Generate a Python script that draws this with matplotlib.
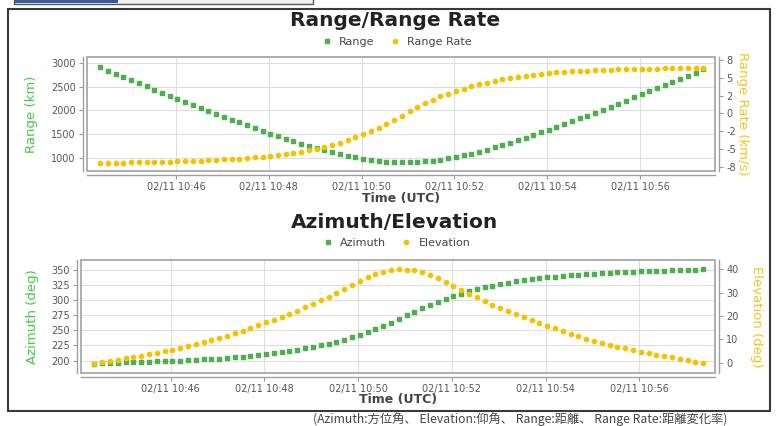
import matplotlib
matplotlib.use("Agg")
import matplotlib.pyplot as plt
import matplotlib.dates as mdates
import pandas as pd
from matplotlib.lines import Line2D
from matplotlib.patches import Rectangle

# samples every 10 s
times = pd.date_range("2016-02-11 10:44:22", periods=79, freq="10s")

range_km = [2900, 2833, 2767, 2701, 2635, 2570, 2504, 2439, 2375, 2310,
            2246, 2183, 2119, 2056, 1994, 1932, 1871, 1810, 1750, 1691,
            1632, 1575, 1518, 1463, 1409, 1357, 1306, 1257, 1210, 1166,
            1124, 1085, 1049, 1017, 988, 964, 945, 930, 921, 916,
            917, 924, 935, 952, 973, 999, 1029, 1063, 1100, 1140,
            1183, 1229, 1276, 1326, 1378, 1431, 1485, 1541, 1598, 1655,
            1714, 1774, 1834, 1895, 1957, 2019, 2081, 2144, 2208, 2272,
            2336, 2401, 2465, 2531, 2596, 2662, 2727, 2793, 2860]

range_rate = [-6.95, -6.94, -6.93, -6.92, -6.90, -6.89, -6.87, -6.85, -6.82, -6.79,
              -6.76, -6.72, -6.68, -6.64, -6.59, -6.54, -6.48, -6.42, -6.35, -6.27,
              -6.18, -6.08, -5.97, -5.85, -5.71, -5.55, -5.37, -5.17, -4.95, -4.70,
              -4.42, -4.11, -3.76, -3.38, -2.96, -2.50, -2.01, -1.50, -0.98, -0.35,
              0.28, 0.88, 1.42, 1.92, 2.37, 2.78, 3.15, 3.49, 3.80, 4.08,
              4.33, 4.56, 4.77, 4.96, 5.13, 5.28, 5.42, 5.54, 5.65, 5.75,
              5.83, 5.90, 5.96, 6.02, 6.07, 6.11, 6.15, 6.18, 6.21, 6.24,
              6.26, 6.28, 6.30, 6.32, 6.33, 6.35, 6.36, 6.37, 6.38]

azimuth = [194.5, 195.6, 196.2, 196.7, 197.3, 197.6, 197.9, 198.3, 198.6, 199.0,
           199.5, 200.0, 200.6, 201.2, 201.8, 202.6, 203.4, 204.4, 205.5, 206.7,
           208.0, 209.4, 211.0, 212.7, 214.5, 216.3, 218.3, 220.4, 222.7, 225.2,
           228.0, 231.2, 234.7, 238.5, 242.6, 247.0, 251.8, 257.0, 262.6, 268.8,
           275.1, 280.8, 286.3, 291.6, 296.8, 301.8, 306.5, 310.8, 314.6, 318.1,
           321.3, 324.2, 326.8, 329.1, 331.1, 333.0, 334.8, 336.4, 337.8, 339.1,
           340.3, 341.4, 342.4, 343.3, 344.1, 344.8, 345.4, 346.0, 346.6, 347.1,
           347.6, 348.1, 348.6, 349.0, 349.4, 349.8, 350.2, 350.6, 351.0]

elevation = [-0.5, 0.1, 0.5, 1.1, 1.8, 2.4, 3.0, 3.6, 4.2, 4.8,
             5.5, 6.2, 7.0, 7.8, 8.6, 9.5, 10.5, 11.5, 12.6, 13.7,
             14.8, 16.0, 17.2, 18.4, 19.7, 21.0, 22.3, 23.7, 25.2, 26.7,
             28.3, 29.9, 31.5, 33.2, 35.0, 36.5, 37.8, 38.9, 39.6, 39.95,
             39.9, 39.5, 38.7, 37.6, 36.2, 34.6, 32.9, 31.2, 29.6, 28.0,
             26.4, 24.9, 23.5, 22.1, 20.7, 19.4, 18.2, 17.0, 15.8, 14.6,
             13.5, 12.4, 11.3, 10.3, 9.4, 8.5, 7.6, 6.8, 6.1, 5.4,
             4.7, 4.0, 3.4, 2.8, 2.2, 1.6, 1.0, 0.3, -0.4]

rate_ticks = [-7.5, -5, -2.5, 0, 2.5, 5, 7.5]
rate_labels = ["-8", "-5", "-2", "0", "2", "5", "8"]

GREEN = "#4fae4f"
YELLOW = "#f3c300"
GREEN_TXT = "#46c646"
YELLOW_TXT = "#f2c41c"
MS_G, MS_Y = 2.6, 3.1

W, H = 776, 426
fig = plt.figure(figsize=(W / 100, H / 100), dpi=100)
fig.patch.set_facecolor("white")


def box(l, t, r, b):
    return [l / W, 1 - b / H, (r - l) / W, (b - t) / H]


def style(ax, axr):
    for a in (ax, axr):
        for s in a.spines.values():
            s.set_visible(False)
        a.tick_params(length=3, color="#999999", labelsize=7, labelcolor="#555555", pad=2)
    for s in (ax.spines["left"], ax.spines["bottom"], axr.spines["right"]):
        s.set_visible(True)
        s.set_position(("outward", 3))
        s.set_color("#a0a0a0")
        s.set_linewidth(1.0)
    ax.add_patch(Rectangle((0, 0), 1, 1, transform=ax.transAxes, fill=False,
                           ec="#a8a8a8", lw=1.3, clip_on=False, zorder=5))
    ax.set_axisbelow(True)
    ax.grid(True, color="#dddddd", lw=0.8)
    ax.xaxis.set_major_locator(mdates.MinuteLocator(byminute=[46, 48, 50, 52, 54, 56]))
    ax.xaxis.set_major_formatter(mdates.DateFormatter("%m/%d %H:%M"))
    ax.set_xlim(pd.Timestamp("2016-02-11 10:44:05"), pd.Timestamp("2016-02-11 10:57:37"))


def ylabels(ax, axr, left, right, lx, rx):
    ax.set_ylabel(left, color=GREEN_TXT, fontsize=9.5)
    ax.yaxis.set_label_coords(lx, 0.5)
    ax.yaxis.label.set_va("center")
    axr.set_ylabel(right, color=YELLOW_TXT, fontsize=9.5, rotation=270)
    axr.yaxis.set_label_coords(rx, 0.5)
    axr.yaxis.label.set_va("center")
    axr.yaxis.label.set_ha("center")


def xlabel(ax, y):
    ax.set_xlabel("Time (UTC)", fontsize=9, fontweight="bold", color="#444444")
    ax.xaxis.set_label_coords(0.5, y)


def legend(y, names):
    handles = [Line2D([], [], ls="none", marker="s", ms=MS_G, color=GREEN),
               Line2D([], [], ls="none", marker="o", ms=MS_Y, color=YELLOW)]
    fig.legend(handles, names, loc="center", bbox_to_anchor=(397 / W, 1 - y / H),
               ncol=2, frameon=False, fontsize=8, handlelength=0.8,
               handletextpad=0.7, columnspacing=1.4, labelcolor="#444444")


# top panel: range / range rate
ax1 = fig.add_axes(box(87, 57, 715, 171))
ax2 = ax1.twinx()
style(ax1, ax2)
ax1.plot(times, range_km, ls="none", marker="s", ms=MS_G, color=GREEN)
ax2.plot(times, range_rate, ls="none", marker="o", ms=MS_Y, color=YELLOW)
ax1.set_ylim(734, 3119)
ax1.set_yticks([1000, 1500, 2000, 2500, 3000])
ax2.set_ylim(-8.1, 7.92)
ax2.set_yticks(rate_ticks)
ax2.set_yticklabels(rate_labels)
ylabels(ax1, ax2, "Range (km)", "Range Rate (km/s)", -0.088, 1.043)
xlabel(ax1, -0.185)
fig.text(395 / W, 1 - 20 / H, "Range/Range Rate", ha="center", va="center",
         fontsize=14.5, fontweight="bold", color="#222222")
legend(42, ["Range", "Range Rate"])

# bottom panel: azimuth / elevation
ax3 = fig.add_axes(box(81, 260, 715, 373))
ax4 = ax3.twinx()
style(ax3, ax4)
ax3.plot(times, azimuth, ls="none", marker="s", ms=MS_G, color=GREEN)
ax4.plot(times, elevation, ls="none", marker="o", ms=MS_Y, color=YELLOW)
ax3.set_ylim(179.4, 366.6)
ax3.set_yticks([200, 225, 250, 275, 300, 325, 350])
ax4.set_ylim(-4.5, 44)
ax4.set_yticks([0, 10, 20, 30, 40])
ylabels(ax3, ax4, "Azimuth (deg)", "Elevation (deg)", -0.077, 1.066)
xlabel(ax3, -0.18)
fig.text(395 / W, 1 - 222 / H, "Azimuth/Elevation", ha="center", va="center",
         fontsize=14.5, fontweight="bold", color="#222222")
legend(243, ["Azimuth", "Elevation"])

# outer frame of the screenshot and the clipped window tab above it
fig.add_artist(Rectangle((8 / W, 1 - 411 / H), 762 / W, 402 / H, transform=fig.transFigure,
                         fill=False, ec="#3a3a3a", lw=1.5))
fig.add_artist(Rectangle((14 / W, 1 - 3.5 / H), 299 / W, 6 / H, transform=fig.transFigure,
                         fc="#f2f2f2", ec="#555555", lw=1.0))
fig.add_artist(Rectangle((15 / W, 1 - 3 / H), 103 / W, 5 / H, transform=fig.transFigure,
                         fc="#3c5a99", ec="none"))

fig.text(313 / W, 1 - 412.5 / H,
         "(Azimuth:方位角、 Elevation:仰角、 Range:距離、 Range Rate:距離変化率)",
         fontsize=8.8, color="#444444", va="top", ha="left",
         family=["Noto Sans CJK JP", "DejaVu Sans"])

fig.savefig("out.png", dpi=100)
